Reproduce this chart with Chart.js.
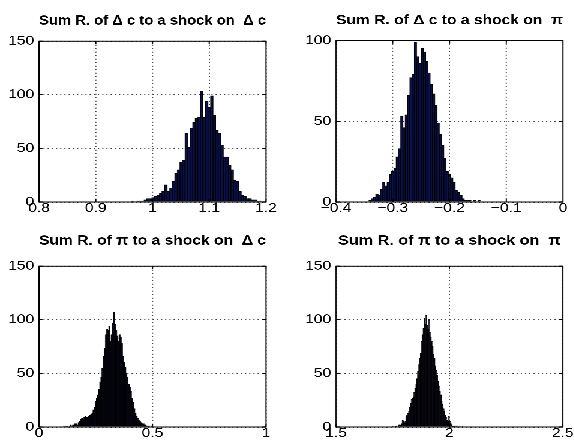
<!DOCTYPE html>
<html><head><meta charset="utf-8">
<script src="https://cdn.jsdelivr.net/npm/chart.js@4.4.1/dist/chart.umd.min.js"></script>
<style>
html,body{margin:0;padding:0;background:#fff;overflow:hidden;width:574px;height:446px}
#wrap{position:absolute;left:0;top:0;width:478.33px;height:446px;transform:scaleX(1.2);transform-origin:0 0}
canvas{position:absolute}
</style></head><body>
<div id="wrap">
<canvas id="c1" width="239" height="223" style="left:0px;top:0px"></canvas>
<canvas id="c2" width="239" height="223" style="left:239px;top:0px"></canvas>
<canvas id="c3" width="239" height="223" style="left:0px;top:223px"></canvas>
<canvas id="c4" width="239" height="223" style="left:239px;top:223px"></canvas>
</div>
<script>
// ---------- titles ----------
const titles = [
  "Sum R. of \u0394 c to a shock on  \u0394 c",
  "Sum R. of \u0394 c to a shock on  \u03c0",
  "Sum R. of \u03c0 to a shock on  \u0394 c",
  "Sum R. of \u03c0 to a shock on  \u03c0"
];

// ---------- panel 1 : dc to dc ----------
const p1Bins = [0.965,0.9695,0.974,0.9785,0.983,0.9875,0.992,0.9965,1.001,1.0055,1.01,1.0145,1.019,1.0235,1.028,1.0325,1.037,1.0415,1.046,1.0505,1.055,1.0595,1.064,1.0685,1.073,1.0775,1.082,1.0865,1.091,1.0955,1.1,1.1045,1.109,1.1135,1.118,1.1225,1.127,1.1315,1.136,1.1405,1.145,1.1495,1.154,1.1585,1.163,1.1675,1.172,1.1765,1.181,1.1855,1.19];
const p1Counts = [1,0,1,1,1,2,3,3,4,5,6,8,10,16,10,13,19,27,30,37,39,64,51,69,74,78,79,103,79,94,88,99,81,67,64,53,42,42,34,30,20,19,10,6,5,3,3,2,2,1,1];
const p1XTicks = [0.8,0.9,1,1.1,1.2];
const p1XLabels = ["0.8","0.9","1","1.1","1.2"];
const p1YTicks = [0,50,100,150];
const p1YLabels = ["0","50","100","150"];

// ---------- panel 2 : dc to pi ----------
const p2Bins = [-0.34,-0.336,-0.332,-0.328,-0.324,-0.32,-0.316,-0.312,-0.308,-0.304,-0.3,-0.296,-0.292,-0.288,-0.284,-0.28,-0.276,-0.272,-0.268,-0.264,-0.26,-0.256,-0.252,-0.248,-0.244,-0.24,-0.236,-0.232,-0.228,-0.224,-0.22,-0.216,-0.212,-0.208,-0.204,-0.2,-0.196,-0.192,-0.188,-0.184,-0.18,-0.176,-0.172,-0.168,-0.164,-0.16,-0.156,-0.152,-0.148];
const p2Counts = [1,2,3,5,4,8,12,10,12,17,19,21,28,33,53,46,54,66,77,79,99,90,86,95,93,87,80,73,67,60,49,42,35,27,19,17,15,12,7,6,4,2,1,1,1,0,1,0,1];
const p2XTicks = [-0.4,-0.3,-0.2,-0.1,0];
const p2XLabels = ["\u22120.4","\u22120.3","\u22120.2","\u22120.1","0"];
const p2YTicks = [0,50,100];
const p2YLabels = ["0","50","100"];

// ---------- panel 3 : pi to dc ----------
const p3Bins = [0.11,0.115,0.12,0.125,0.13,0.135,0.14,0.145,0.15,0.155,0.16,0.165,0.17,0.175,0.18,0.185,0.19,0.195,0.2,0.205,0.21,0.215,0.22,0.225,0.23,0.235,0.24,0.245,0.25,0.255,0.26,0.265,0.27,0.275,0.28,0.285,0.29,0.295,0.3,0.305,0.31,0.315,0.32,0.325,0.33,0.335,0.34,0.345,0.35,0.355,0.36,0.365,0.37,0.375,0.38,0.385,0.39,0.395,0.4,0.405,0.41,0.415,0.42,0.425,0.43,0.435,0.44,0.445,0.45,0.455,0.46,0.465,0.47,0.475,0.48,0.485,0.49,0.495,0.5];
const p3Counts = [1,0,1,1,0,1,2,1,2,1,3,3,2,4,5,7,8,7,9,10,9,8,10,11,12,13,16,18,24,27,30,35,42,46,55,66,73,86,91,90,94,80,86,97,107,96,90,85,80,86,84,78,66,60,56,50,46,40,37,33,27,23,17,13,10,8,6,5,4,3,3,2,2,1,1,1,0,1,0];
const p3XTicks = [0,0.5,1];
const p3XLabels = ["0","0.5","1"];
const p3YTicks = [0,50,100,150];
const p3YLabels = ["0","50","100","150"];

// ---------- panel 4 : pi to pi ----------
const p4Bins = [1.75,1.754,1.758,1.762,1.766,1.77,1.774,1.778,1.782,1.786,1.79,1.794,1.798,1.802,1.806,1.81,1.814,1.818,1.822,1.826,1.83,1.834,1.838,1.842,1.846,1.85,1.854,1.858,1.862,1.866,1.87,1.874,1.878,1.882,1.886,1.89,1.894,1.898,1.902,1.906,1.91,1.914,1.918,1.922,1.926,1.93,1.934,1.938,1.942,1.946,1.95,1.954,1.958,1.962,1.966,1.97,1.974,1.978,1.982,1.986,1.99,1.994,1.998,2.002,2.006,2.01,2.014,2.018,2.022,2.026,2.03,2.034,2.038,2.042,2.046,2.05,2.054,2.058];
const p4Counts = [1,0,0,1,1,0,1,2,2,1,3,6,5,4,5,10,11,13,15,18,22,26,27,28,32,36,40,45,52,58,64,69,80,86,92,101,96,104,95,91,100,88,84,80,75,68,64,57,53,48,43,38,33,30,24,21,17,15,11,9,6,5,10,5,3,2,1,1,1,0,1,0,1,0,1,0,0,1];
const p4XTicks = [1.5,2,2.5];
const p4XLabels = ["1.5","2","2.5"];
const p4YTicks = [0,50,100,150];
const p4YLabels = ["0","50","100","150"];

// ---------- drawing ----------
const FONT = '"Liberation Sans", Arial, Helvetica, sans-serif';

const boxPlugin = {
  id: 'matlabBox',
  afterDatasetsDraw(chart) {
    const {ctx, chartArea: a} = chart;
    const xs = chart.scales.x, ys = chart.scales.y;
    ctx.save();
    ctx.setLineDash([]);
    ctx.strokeStyle = '#000';
    ctx.lineWidth = 1;
    ctx.beginPath();
    const tl = 3;
    xs.ticks.forEach(t => {
      const px = xs.getPixelForValue(t.value);
      ctx.moveTo(px, a.bottom); ctx.lineTo(px, a.bottom - tl);
      ctx.moveTo(px, a.top); ctx.lineTo(px, a.top + tl);
    });
    ys.ticks.forEach(t => {
      const py = ys.getPixelForValue(t.value);
      ctx.moveTo(a.left, py); ctx.lineTo(a.left + tl, py);
      ctx.moveTo(a.right, py); ctx.lineTo(a.right - tl, py);
    });
    ctx.stroke();
    ctx.strokeRect(a.left, a.top, a.right - a.left, a.bottom - a.top);
    ctx.restore();
  }
};

function makeChart(id, bins, counts, xTicks, xLabels, yTicks, yLabels, title, g) {
  const ctx = document.getElementById(id);
  return new Chart(ctx, {
    type: 'bar',
    data: {
      datasets: [{
        data: bins.map((b, i) => ({x: b, y: counts[i]})),
        backgroundColor: g.fill,
        borderColor: '#000',
        borderWidth: g.bw,
        borderSkipped: 'bottom',
        barPercentage: 1,
        categoryPercentage: 1
      }]
    },
    options: {
      responsive: false,
      animation: false,
      devicePixelRatio: 3,
      events: [],
      layout: {padding: {left: 0, right: g.padR, top: 0, bottom: 0}},
      plugins: {
        legend: {display: false},
        tooltip: {enabled: false},
        title: {
          display: true,
          text: title,
          fullSize: false,
          color: '#000',
          font: {family: FONT, size: 13.5, weight: 'bold', lineHeight: 1.2},
          padding: {top: g.tTop, bottom: g.tBot}
        }
      },
      scales: {
        x: {
          type: 'linear',
          offset: false,
          min: xTicks[0],
          max: xTicks[xTicks.length - 1],
          afterBuildTicks: s => { s.ticks = xTicks.map(v => ({value: v})); },
          afterFit: s => { s.height = g.xH; },
          ticks: {
            callback: (v, i) => xLabels[i],
            color: '#000',
            font: {family: FONT, size: 13, lineHeight: 1},
            padding: 0,
            maxRotation: 0,
            autoSkip: false
          },
          grid: {color: '#444', lineWidth: 1, drawTicks: false, offset: false},
          border: {display: false, dash: [1, 2.5]}
        },
        y: {
          type: 'linear',
          min: yTicks[0],
          max: yTicks[yTicks.length - 1],
          afterBuildTicks: s => { s.ticks = yTicks.map(v => ({value: v})); },
          afterFit: s => { s.width = g.yW; },
          ticks: {
            callback: (v, i) => yLabels[i],
            color: '#000',
            font: {family: FONT, size: 13, lineHeight: 1},
            padding: 4,
            autoSkip: false
          },
          grid: {color: '#444', lineWidth: 1, drawTicks: false},
          border: {display: false, dash: [1, 2.5]}
        }
      }
    },
    plugins: [boxPlugin]
  });
}

makeChart('c1', p1Bins, p1Counts, p1XTicks, p1XLabels, p1YTicks, p1YLabels, titles[0],
  {yW: 32.5, padR: 17.33, xH: 21, tTop: 12.9, tBot: 12.0, fill: '#0a1048', bw: 0.7});
makeChart('c2', p2Bins, p2Counts, p2XTicks, p2XLabels, p2YTicks, p2YLabels, titles[1],
  {yW: 41, padR: 8.83, xH: 21, tTop: 12.4, tBot: 12.0, fill: '#0a1048', bw: 0.7});
makeChart('c3', p3Bins, p3Counts, p3XTicks, p3XLabels, p3YTicks, p3YLabels, titles[2],
  {yW: 32.5, padR: 17.33, xH: 19, tTop: 9.9, tBot: 17.0, fill: '#050510', bw: 0.4});
makeChart('c4', p4Bins, p4Counts, p4XTicks, p4XLabels, p4YTicks, p4YLabels, titles[3],
  {yW: 41, padR: 8.83, xH: 19, tTop: 9.9, tBot: 17.0, fill: '#050510', bw: 0.4});
</script>
</body></html>
